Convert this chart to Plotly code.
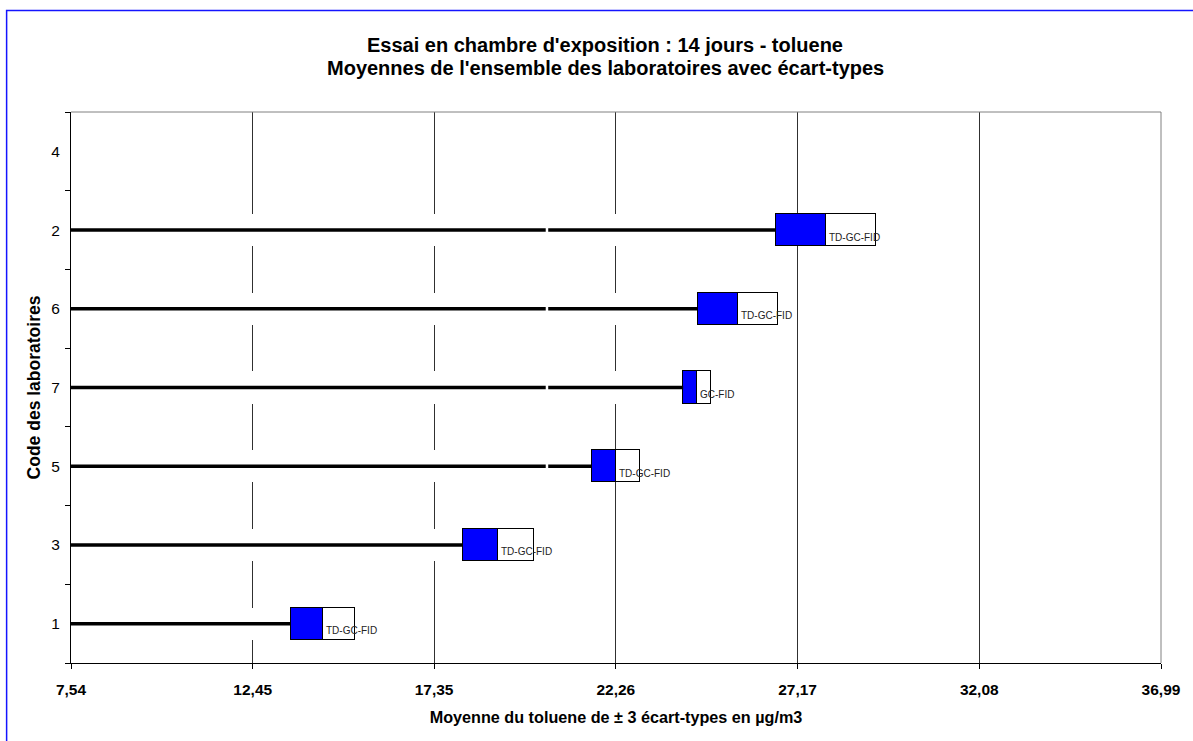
import plotly.graph_objects as go

# ---- data ----
labs = ['1', '3', '5', '7', '6', '2', '4']            # bottom -> top
lab_with_data = ['1', '3', '5', '7', '6', '2']
means = [14.34, 19.09, 22.26, 24.45, 25.55, 27.93]
sds = [0.86, 0.97, 0.65, 0.37, 1.08, 1.35]
methods = ['TD-GC-FID', 'TD-GC-FID', 'TD-GC-FID', 'GC-FID', 'TD-GC-FID', 'TD-GC-FID']
x_ticks = [7.54, 12.45, 17.35, 22.26, 27.17, 32.08, 36.99]
x_tick_labels = ['7,54', '12,45', '17,35', '22,26', '27,17', '32,08', '36,99']
line_break_value = 20.40

FONT = 'Arial, Liberation Sans, sans-serif'
W, H = 1193, 741
ML, MR, MT, MB = 71, 30, 112, 78
PW, PH = W - ML - MR, H - MT - MB

def px_to_paper_x(px):
    return (px - ML) / PW

def px_to_paper_y(py):
    return (H - MB - py) / PH

lows = [m - s for m, s in zip(means, sds)]
x_min, x_max = x_ticks[0], x_ticks[-1]
BW = 0.41

fig = go.Figure()
# invisible (white) base segment that masks the gridlines
fig.add_trace(go.Bar(y=lab_with_data, x=lows, orientation='h', width=BW,
                     marker=dict(color='white', line=dict(width=0)),
                     hoverinfo='skip', showlegend=False))
# mean - sd -> mean (blue)
fig.add_trace(go.Bar(y=lab_with_data, x=sds, orientation='h', width=BW,
                     marker=dict(color='#0000FF', line=dict(color='black', width=1.5)),
                     showlegend=False))
# mean -> mean + sd (white)
fig.add_trace(go.Bar(y=lab_with_data, x=sds, orientation='h', width=BW,
                     marker=dict(color='white', line=dict(color='black', width=1.5)),
                     showlegend=False))

# thick black line from the axis origin to the start of each box
lx, ly = [], []
for lab, lo in zip(lab_with_data, lows):
    lx += [x_min, lo, None]
    ly += [lab, lab, None]
fig.add_trace(go.Scatter(x=lx, y=ly, mode='lines', line=dict(color='black', width=3.5),
                         hoverinfo='skip', showlegend=False))

annotations = []
for lab, m, meth in zip(lab_with_data, means, methods):
    annotations.append(dict(x=m, y=labs.index(lab), xref='x', yref='y', text=meth,
                            showarrow=False, xanchor='left', yanchor='middle',
                            xshift=1, yshift=-7,
                            font=dict(family=FONT, size=10, color='#222222')))

title_lines = ["Essai en chambre d'exposition : 14 jours - toluene",
               "Moyennes de l'ensemble des laboratoires avec écart-types"]
for txt, ypx in zip(title_lines, [45, 68]):
    annotations.append(dict(x=px_to_paper_x(606), y=px_to_paper_y(ypx), xref='paper', yref='paper',
                            text='<b>%s</b>' % txt, showarrow=False,
                            xanchor='center', yanchor='middle',
                            font=dict(family=FONT, size=20, color='black')))

shapes = [
    # small white break in the long lines
    dict(type='line', xref='x', yref='y', x0=line_break_value, x1=line_break_value,
         y0=1.6, y1=5.4, line=dict(color='white', width=2.5), layer='above'),
    # top & right plot border
    dict(type='line', xref='paper', yref='paper', x0=0, x1=1, y0=1, y1=1,
         line=dict(color='#808080', width=1)),
    dict(type='line', xref='paper', yref='paper', x0=1, x1=1, y0=0, y1=1,
         line=dict(color='#808080', width=1)),
    # outer blue frame
    dict(type='rect', xref='paper', yref='paper',
         x0=px_to_paper_x(6.5), x1=px_to_paper_x(W + 10),
         y0=px_to_paper_y(H + 10), y1=px_to_paper_y(10.5),
         line=dict(color='#1414FF', width=1.5)),
]

fig.update_layout(
    width=W, height=H,
    margin=dict(l=ML, r=MR, t=MT, b=MB, pad=0),
    paper_bgcolor='white', plot_bgcolor='white',
    barmode='stack', bargap=0,
    font=dict(family=FONT, size=12, color='black'),
    xaxis=dict(range=[x_min, x_max], tickvals=x_ticks,
               ticktext=['<b>%s</b>' % t for t in x_tick_labels],
               showgrid=True, gridcolor='#303030', gridwidth=1,
               showline=True, linecolor='black', linewidth=1,
               ticks='outside', ticklen=5, tickcolor='black',
               ticklabelstandoff=7, zeroline=False,
               tickfont=dict(family=FONT, size=15.5, color='black'),
               title=dict(text='<b>Moyenne du toluene de ± 3 écart-types en µg/m3</b>',
                          standoff=15, font=dict(family=FONT, size=16.2, color='black'))),
    yaxis=dict(type='category', categoryorder='array', categoryarray=labs,
               range=[-0.5, len(labs) - 0.5],
               showgrid=False, showline=True, linecolor='black', linewidth=1,
               ticks='outside', ticklen=5, tickcolor='black', tickson='boundaries',
               ticklabelstandoff=7,
               tickfont=dict(family=FONT, size=15.5, color='black'),
               title=dict(text='<b>Code des laboratoires</b>', standoff=6,
                          font=dict(family=FONT, size=17.5, color='black'))),
    annotations=annotations,
    shapes=shapes,
)

fig.write_html('out.html', config={'displayModeBar': False},
               post_script="document.body.style.margin='0px';")
